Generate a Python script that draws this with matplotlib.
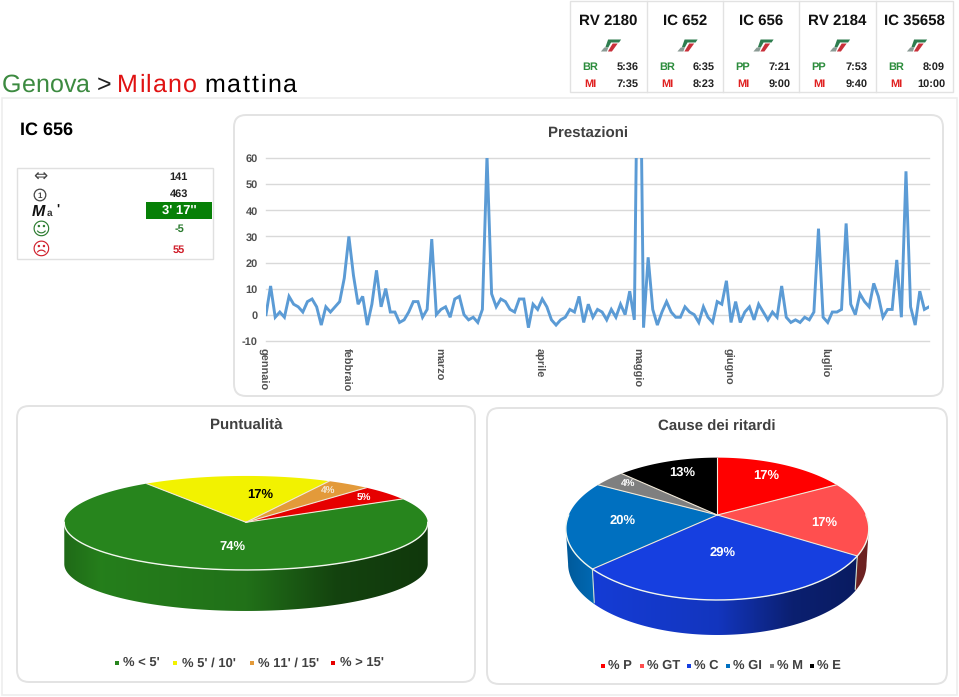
import numpy as np
import matplotlib
matplotlib.use("Agg")
import matplotlib.pyplot as plt
from matplotlib.font_manager import FontProperties
from matplotlib.patches import FancyBboxPatch, Polygon, Rectangle, Circle
from matplotlib.transforms import ScaledTranslation

plt.rcParams['font.family'] = ['Liberation Sans', 'DejaVu Sans']
plt.rcParams['text.hinting'] = 'no_hinting'
plt.rcParams['text.hinting_factor'] = 1
plt.rcParams['axes.unicode_minus'] = False

W, H = 959, 697

# treni in alto a destra
train_names = ["RV 2180", "IC 652", "IC 656", "RV 2184", "IC 35658"]
train_from = ["BR", "BR", "PP", "PP", "BR"]
train_dep = ["5:36", "6:35", "7:21", "7:53", "8:09"]
train_to = ["MI", "MI", "MI", "MI", "MI"]
train_arr = ["7:35", "8:23", "9:00", "9:40", "10:00"]

stat_values = ["141", "463", "3' 17''", "-5", "55"]

# ritardi giornalieri
delays = [0, 11, -1, 1, -1, 7, 4, 3, 1, 5, 6, 3, -4, 3, 1, 3, 5, 14, 30, 15, 4, 7, -4, 4,
          17, 3, 10, 1, 1, -3, -2, 1, 5, 5, -1, 2, 29, 0, 2, 3, -1, 6, 7, 0, -2, -1, -3, 2,
          61, 8, 3, 6, 5, 2, 1, 6, 6, -5, 4, 2, 6, 3, -2, -4, -2, -1, 2, 1, 7, -3, 4, -1, 2,
          1, -2, 2, -1, 4, 0, 9, -2, 150, -5, 22, 2, -4, 1, 5, 1, -1, -1, 3, 1, 0, -3,
          3, -1, -3, 5, 4, 13, -3, 5, -3, 1, 3, -2, 4, 1, -2, 1, -1, 11, -1, -3, -2, -3, -1,
          -2, 1, 33, -1, -3, 1, 1, 2, 35, 4, 0, 8, 5, 3, 12, 7, -1, 2, 2, 21, -1, 55, 3, -4,
          9, 2, 3]
month_names = ["gennaio", "febbraio", "marzo", "aprile", "maggio", "giugno", "luglio"]
month_pos = [0, 18, 38, 60, 81, 101, 122]

punct_labels = ["% < 5'", "% 5' / 10'", "% 11' / 15'", "% > 15'"]
punct_values = [74, 17, 4, 5]
punct_colors = ["#27851D", "#F2F200", "#E39A3A", "#E60000"]

cause_labels = ["% P", "% GT", "% C", "% GI", "% M", "% E"]
cause_values = [17, 17, 29, 20, 4, 13]
cause_colors = ["#FF0000", "#FF4F4F", "#163FE0", "#0070C0", "#7F7F7F", "#000000"]


def pix_axes(x0, y0, x1, y1):
    return [x0 / W, 1 - y1 / H, (x1 - x0) / W, (y1 - y0) / H]


def pie3d(ax, values, colors, start, cx, cy, a, b, k, depth, shrink):
    # torta finta 3D: cerchio proiettato in prospettiva sul piano dello schermo
    def rim(t):
        d = 1 + k * np.sin(t)
        return cx + a * np.cos(t) / d, cy - b * np.sin(t) / d

    fracs = np.array(values) / sum(values)
    edges = np.radians(start - 360 * np.concatenate([[0], np.cumsum(fracs)]))
    left = cx - a / np.sqrt(1 - k * k)
    width = 2 * a / np.sqrt(1 - k * k)
    u = np.linspace(0, 1, 400)
    f = np.interp(u, [0, 0.1, 0.5, 0.75, 1], [0.8, 0.95, 0.85, 0.5, 0.42])
    top = cy - b
    bottom = cy + 2 * b + depth

    # fianco, sfumatura tagliata sulla forma di ogni fetta
    for i, col in enumerate(colors):
        ts = np.linspace(edges[i], edges[i + 1], 1000)
        ts = ts[np.sin(ts) <= -k]
        if len(ts) < 2:
            continue
        xs, ys = rim(ts)
        bxs = cx + (xs - cx) * shrink
        pts = list(zip(xs, ys)) + list(zip(bxs[::-1], ys[::-1] + depth))
        wall = Polygon(pts, closed=True, fc="none", ec="none", zorder=3)
        ax.add_patch(wall)
        grad = np.outer(f, matplotlib.colors.to_rgb(col))[np.newaxis, :, :]
        im = ax.imshow(grad, extent=(left, left + width, bottom, top), aspect="auto", zorder=3)
        im.set_clip_path(wall)
    ax.set_xlim(0, W)
    ax.set_ylim(H, 0)
    for t in edges[:-1]:
        if np.sin(t) < 0:
            x0, y0 = rim(t)
            ax.plot([x0, cx + (x0 - cx) * shrink], [y0, y0 + depth * 0.95], color="#cfe0d0", lw=0.8, zorder=4)

    # faccia superiore
    for i, col in enumerate(colors):
        ts = np.linspace(edges[i], edges[i + 1], 120)
        xs, ys = rim(ts)
        pts = [(cx, cy)] + list(zip(xs, ys))
        ax.add_patch(Polygon(pts, closed=True, fc=col, ec="none", zorder=5))
    for i in range(len(colors)):
        x0, y0 = rim(edges[i])
        ax.plot([cx, x0], [cy, y0], color="#f0e8d8", lw=0.8, zorder=6)
    ts = np.radians(np.linspace(180, 360, 200))
    xs, ys = rim(ts)
    ax.plot(xs, ys, color="#f2f7ee", lw=1.0, zorder=6)


def panel(ax, x0, y0, x1, y1):
    ax.add_patch(FancyBboxPatch((x0 + 12, y0 + 12), x1 - x0 - 24, y1 - y0 - 24,
                                boxstyle="round,pad=12,rounding_size=12",
                                fc="white", ec="#e3e3e3", lw=1.4, zorder=1))


def legend(ax, labels, colors, mark_x, text_x, y):
    for lab, col, mx, tx in zip(labels, colors, mark_x, text_x):
        ax.add_patch(Rectangle((mx - 2, y - 2), 4, 4, fc=col, ec="none", zorder=5))
        ax.text(tx, y, lab, fontsize=9.1, fontweight="bold", color="#404040", va="center", ha="left", zorder=5)


def logo(ax, cx, cy):
    # frecce trenitalia, inclinate
    def sk(pts):
        return [(cx + x - y * 0.35, cy + y) for x, y in pts]
    ax.add_patch(Polygon(sk([(-5, -6), (8, -6), (7, -3), (-1, -3), (-2, 2), (-5, 2)]),
                         fc="#2e7d4f", ec="none", zorder=5))
    ax.add_patch(Polygon(sk([(-6, 2), (-2, 2), (-2, 6), (-8, 6)]), fc="#8a9a94", ec="none", zorder=5))
    ax.add_patch(Polygon(sk([(1, -2), (6, -2), (3, 6), (-1, 6)]), fc="#c8303a", ec="none", zorder=5))


def spaced(ax, x, y, s, fs, col, extra):
    # il titolo originale ha le lettere distanziate
    r = fig.canvas.get_renderer()
    fp = FontProperties(family="Liberation Sans", size=fs)
    for i, ch in enumerate(s):
        adv = r.get_text_width_height_descent(s[:i], fp, False)[0] if i else 0
        ax.text(x + adv + extra * i, y, ch, fontsize=fs, color=col, va="baseline", zorder=5)


fig = plt.figure(figsize=(W / 100, H / 100), dpi=100, facecolor="white")
bg = fig.add_axes([0, 0, 1, 1])
bg.set_xlim(0, W)
bg.set_ylim(H, 0)
bg.axis("off")

# cornice pagina
bg.add_patch(Rectangle((2, 98), W - 4, H - 100, fc="white", ec="#eeeeee", lw=1.2, zorder=0))

# titolo
spaced(bg, 2, 92, "Genova", 18, "#3C8A40", 0.1)
bg.text(96.5, 92, ">", fontsize=18, color="#222222", va="baseline")
spaced(bg, 117, 92, "Milano", 18, "#E01212", 1.2)
spaced(bg, 204.5, 92, "mattina", 18, "black", 1.8)

# tabella treni
cell_edges = [570, 647, 723, 799, 876, 953]
bg.add_patch(Rectangle((570, 1), 383, 91, fc="white", ec="#e2e2e2", lw=1, zorder=1))
for i, name in enumerate(train_names):
    x0, x1 = cell_edges[i], cell_edges[i + 1]
    mid = (x0 + x1) / 2
    if i:
        bg.plot([x0, x0], [1, 92], color="#e2e2e2", lw=1, zorder=2)
    bg.text(mid, 21, name, fontsize=10.5, fontweight="bold", color="#111111", ha="center", va="center", zorder=5)
    logo(bg, mid + 2.5, 45.5)
    bg.text(x0 + 20, 67, train_from[i], fontsize=7.8, fontweight="bold", color="#2C8C3C", ha="center", va="center", zorder=5)
    bg.text(x0 + 20, 84, train_to[i], fontsize=7.8, fontweight="bold", color="#E02020", ha="center", va="center", zorder=5)
    bg.text(x1 - 8, 67, train_dep[i], fontsize=7.8, fontweight="bold", color="#222222", ha="right", va="center", zorder=5)
    bg.text(x1 - 8, 84, train_arr[i], fontsize=7.8, fontweight="bold", color="#222222", ha="right", va="center", zorder=5)

# riquadro sinistro
bg.text(20, 135, "IC 656", fontsize=13, fontweight="bold", color="black", va="baseline")
bg.add_patch(Rectangle((17, 168), 196, 91, fc="white", ec="#e0e0e0", lw=1, zorder=1))
bg.add_patch(Rectangle((146, 202), 66, 17, fc="#078007", ec="none", zorder=2))
row_y = [177, 194, 211, 229, 250]
row_colors = ["#222222", "#222222", "white", "#2C7C30", "#D0202C"]
row_sizes = [8, 8, 9, 8, 8]
for val, y, col, fs in zip(stat_values, row_y, row_colors, row_sizes):
    bg.text(179, y, val, fontsize=fs, fontweight="bold", color=col, ha="center", va="center", zorder=5)
bg.text(40, 177, "\u21d4", fontsize=12, color="#444444", ha="center", va="center", family="DejaVu Sans", zorder=5)
bg.add_patch(Circle((40, 195), 5.8, fc="white", ec="#444444", lw=0.9, zorder=5))
bg.text(40, 196, "1", fontsize=6, fontweight="bold", color="#444444", ha="center", va="center", zorder=6)
bg.text(31.5, 212, "M", fontsize=11.5, fontweight="bold", style="italic", color="#111111", va="center", zorder=5)
bg.text(47, 213, "a", fontsize=7.5, fontweight="bold", color="#333333", va="center", zorder=5)
bg.text(56, 210, "'", fontsize=9, fontweight="bold", color="#111111", va="center", zorder=5)
bg.text(41, 230, "\u263a", fontsize=13, color="#2C7C30", ha="center", va="center", family="DejaVu Sans", zorder=5)
bg.text(41, 250, "\u2639", fontsize=13, color="#D0202C", ha="center", va="center", family="DejaVu Sans", zorder=5)

# pannelli
panel(bg, 234, 115, 943, 396)
panel(bg, 17, 406, 475, 682)
panel(bg, 487, 408, 947, 684)
bg.text(588, 134, "Prestazioni", fontsize=11, fontweight="bold", color="#404040", ha="center", va="center", zorder=5)
bg.text(246, 425, "Puntualità", fontsize=11, fontweight="bold", color="#404040", ha="center", va="center", zorder=5)
bg.text(717, 427, "Cause dei ritardi", fontsize=11, fontweight="bold", color="#404040", ha="center", va="center", zorder=5)

# torta puntualita
pie3d(bg, punct_values, punct_colors, 30, 246, 522.3, 181.7, 47, 0.014, 41, 1.0)
punct_pos = [(232, 547), (260, 495), (328, 491), (364, 498)]
punct_text = ["white", "black", "#f4ead8", "white"]
punct_fs = [9, 9.5, 7.5, 7.5]
for v, (x, y), c, fs in zip(punct_values, punct_pos, punct_text, punct_fs):
    bg.text(x, y, f"{v}%", color=c, fontsize=fs, fontweight="bold", ha="center", va="center", zorder=8)
legend(bg, punct_labels, punct_colors, [117, 175, 252, 333], [123, 182, 258, 340], 663)

# torta cause
pie3d(bg, cause_values, cause_colors, 90, 717.3, 515, 148.6, 68.5, 0.194, 35, 0.985)
cause_pos = [(766, 476), (824, 523), (723, 553), (623, 521), (628, 484), (682, 473)]
cause_fs = [9, 9, 9, 9, 7.5, 9]
for v, (x, y), fs in zip(cause_values, cause_pos, cause_fs):
    bg.text(x, y, f"{v}%", color="white", fontsize=fs, fontweight="bold", ha="center", va="center", zorder=8)
legend(bg, cause_labels, cause_colors, [603, 642, 689, 728, 772, 812], [608, 647, 694, 733, 777, 817], 666)

# grafico a linea
ax = fig.add_axes(pix_axes(266, 158.3, 929, 340.7))
ax.patch.set_alpha(0)
ax.set_zorder(3)
ax.plot(range(len(delays)), delays, color="#5B9BD5", lw=2.1, solid_joinstyle="miter", zorder=3)
ax.set_xlim(0, len(delays) - 1)
ax.set_ylim(-10, 60)
ax.set_yticks(range(-10, 61, 10))
ax.grid(axis="y", color="#d9d9d9", lw=1)
for gl in ax.get_ygridlines():
    gl.set_clip_on(False)
ax.set_axisbelow(True)
ax.set_xticks(month_pos)
ax.set_xticklabels(month_names, rotation=270, rotation_mode="anchor", fontsize=7.7, fontweight="bold",
                   color="#505050", va="center", ha="left")
ax.tick_params(axis="x", length=0, pad=5)
ax.tick_params(axis="y", length=0, pad=6, labelsize=8, labelcolor="#505050")
for lab in ax.get_xticklabels():
    lab.set_transform(lab.get_transform() + ScaledTranslation(-3 / 100, 0, fig.dpi_scale_trans))
for lab in ax.get_yticklabels():
    lab.set_fontweight("bold")
for s in ax.spines.values():
    s.set_visible(False)

fig.savefig("out.png", dpi=100)
